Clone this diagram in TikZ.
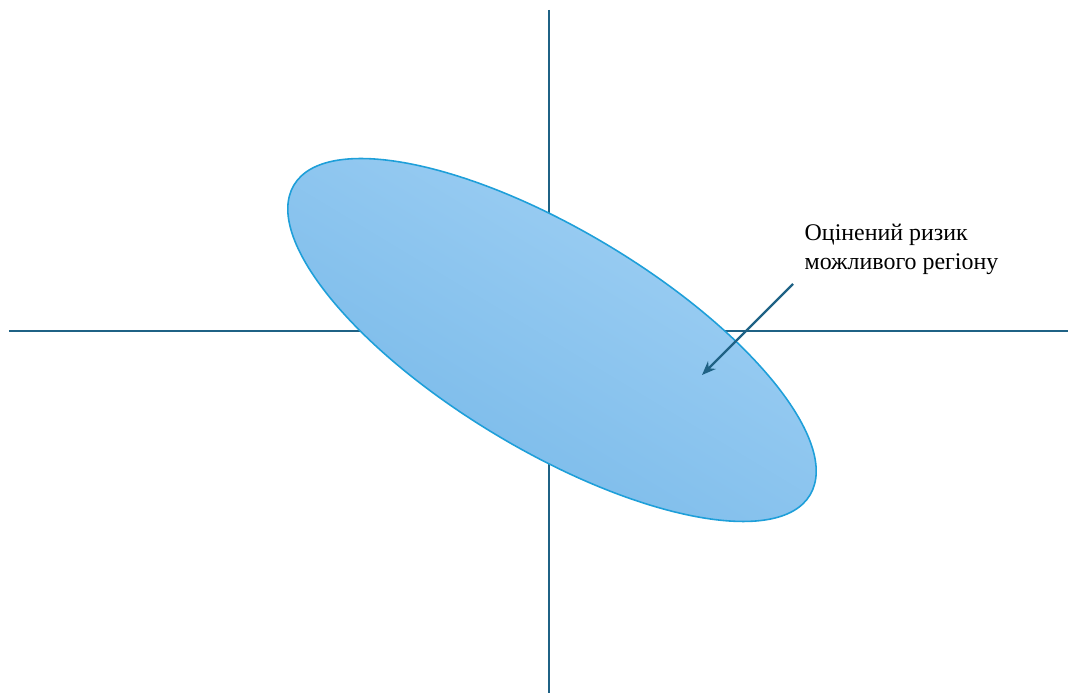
\documentclass[tikz,border=0pt]{standalone}
\usepackage{fontspec}
\setmainfont{Liberation Serif}
\usepackage{xcolor}
\usepackage{tikz}
\usetikzlibrary{
	arrows.meta,
	positioning,
	calc
}
\definecolor{axiscol}{HTML}{1F6285}
\definecolor{rimcol}{HTML}{1E9FD9}
\definecolor{lightfill}{HTML}{A3D2F5}
\definecolor{darkfill}{HTML}{74B7E8}

\begin{document}
\begin{tikzpicture}[>={Stealth[length=1.4mm,width=1.1mm]},
		axisline/.style={draw=axiscol,line width=0.75pt},
		pointer/.style={->,draw=axiscol,line width=0.65pt},
		label/.style={font=\fontsize{6.8}{8.5}\selectfont,align=left,inner sep=0pt}]
		
		\useasboundingbox (0,0) rectangle (10.68,6.93);
		
		% Axes
		\coordinate (top) at (5.49,6.83);
		\coordinate (bottom) at (5.49,0);
		\coordinate (left) at (0.09,3.62);
		\coordinate (right) at (10.68,3.62);
		\draw[axisline] (top) -- (bottom);
		\draw[axisline] (left) -- (right);
		
		% Region
		\coordinate (centre) at (5.52,3.53);
		\shade[top color=lightfill,bottom color=darkfill,shading angle=-31,
		draw=rimcol,line width=0.45pt,rotate around={-31:(centre)}]
		(centre) ellipse (3.01 and 1.10);
		
		% Label and pointer
		\node[label,anchor=north west] (risk) at (8.04,4.70)
		{Оцінений ризик\\можливого регіону};
		\coordinate (tail) at (7.93,4.09);
		\coordinate (tip) at (7.02,3.18);
		\draw[pointer] (tail) -- (tip);
		
	\end{tikzpicture}
\end{document}
